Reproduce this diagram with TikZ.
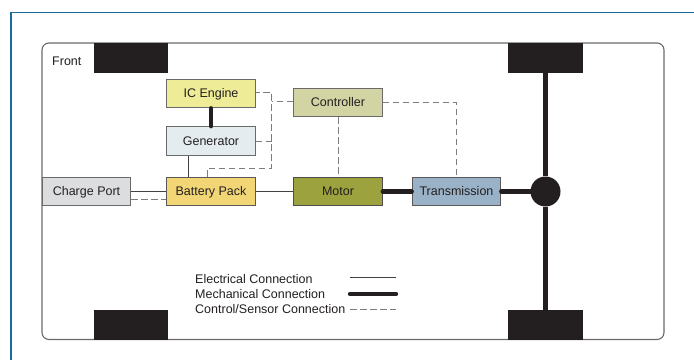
\documentclass[tikz,border=0pt]{standalone}
\usepackage{fontspec}
\setmainfont{Liberation Sans}
\usetikzlibrary{calc}
\definecolor{ink}{HTML}{231F20}
\definecolor{edge}{HTML}{6A6A6A}
\definecolor{dashcol}{HTML}{7C7C7C}
\definecolor{framecol}{HTML}{1A6AA0}
\tikzset{
  x=1pt,y=-1pt,
  unit/.style={draw=#1,line width=1.1pt,minimum width=88.5pt,minimum height=28.5pt,inner sep=0pt,text height=9pt,text depth=0.6pt,text=ink,font=\fontsize{12.5}{14}\selectfont},
  unit/.default=edge,
  wheel/.style={fill=ink,draw=none,minimum width=74.5pt,minimum height=30pt,inner sep=0pt},
  elec/.style={draw=ink!85,line width=0.8pt},
  mech/.style={draw=ink,line width=4.4pt,line cap=round},
  ctrl/.style={draw=dashcol,line width=0.95pt,dash pattern=on 6.5pt off 3.5pt},
  lab/.style={anchor=west,inner sep=0pt,text=ink,font=\fontsize{12.5}{14}\selectfont}
}
\begin{document}
\begin{tikzpicture}
\useasboundingbox (0,0) rectangle (694,360);
\fill[white] (0,0) rectangle (694,360);
\draw[framecol,line width=1.7pt] (11.3,360) -- (11.3,12.5) -- (694,12.5);
\draw[edge,line width=1.1pt,rounded corners=7pt] (42,43) rectangle (664,339.5);
\node[lab] (front) at (52,61.5) {Front};
% wheels
\node[wheel] (fl) at (131,58) {};
\node[wheel] (fr) at (545.5,58) {};
\node[wheel] (rl) at (131,325) {};
\node[wheel] (rr) at (545.5,325) {};
% units
\node[unit,fill={rgb,255:red,239;green,236;blue,152}] (ice) at (211,93.5) {IC Engine};
\node[unit,fill={rgb,255:red,229;green,236;blue,240}] (gen) at (211,141) {Generator};
\node[unit,fill={rgb,255:red,242;green,214;blue,117},draw=ink!75] (bat) at (211,191.5) {Battery Pack};
\node[unit,fill={rgb,255:red,220;green,221;blue,223}] (chg) at (86.5,191.5) {Charge Port};
\node[unit,fill={rgb,255:red,210;green,212;blue,164}] (ctl) at (338,102.5) {Controller};
\node[unit,fill={rgb,255:red,156;green,162;blue,62},draw=ink!80] (mot) at (338,191.5) {Motor};
\node[unit,fill={rgb,255:red,153;green,178;blue,200},draw=ink!75] (trn) at (456.5,191.5) {Transmission};
\node[circle,fill=ink,draw=none,minimum size=30pt,inner sep=0pt] (diff) at (545.5,191.5) {};
% junctions
\coordinate (busx) at (271.5,101);
\coordinate (batup) at (207.5,168);
\coordinate (gensol) at (188.5,0);
% electrical
\draw[elec] (chg.east) -- (bat.west);
\draw[elec] (bat.east) -- (mot.west);
\draw[elec] (gensol |- gen.south) -- (gensol |- bat.north);
% mechanical
\draw[mech] (ice.south) -- (gen.north);
\draw[mech] (mot.east) -- (trn.west);
\draw[mech] (trn.east) -- (diff.west);
\draw[mech,line cap=butt] (fr.south) -- (diff.north);
\draw[mech,line cap=butt] (diff.south) -- (rr.north);
% control
\draw[ctrl] ($(chg.east)+(0,7.5)$) -- ($(bat.west)+(0,7.5)$);
\draw[ctrl] (batup |- bat.north) -- (batup) -| (busx) |- ($(ice.east)+(0,-1)$);
\draw[ctrl] (gen.east) -- (busx |- gen.east);
\draw[ctrl] (ctl.west |- busx) -- (busx);
\draw[ctrl] ($(ctl.south)+(0.5,0)$) -- ($(mot.north)+(0.5,0)$);
\draw[ctrl] (ctl.east) -| (trn.north);
% legend
\node[lab] (l1) at (195,279) {Electrical Connection};
\node[lab] (l2) at (195,294) {Mechanical Connection};
\node[lab] (l3) at (195,309) {Control/Sensor Connection};
\coordinate (a1) at (350,277.5);
\coordinate (b1) at (396,277.5);
\coordinate (a2) at (350,294);
\coordinate (b2) at (396,294);
\coordinate (a3) at (350,309.5);
\coordinate (b3) at (396,309.5);
\draw[elec] (a1) -- (b1);
\draw[mech] (a2) -- (b2);
\draw[ctrl] (a3) -- (b3);
\end{tikzpicture}
\end{document}
